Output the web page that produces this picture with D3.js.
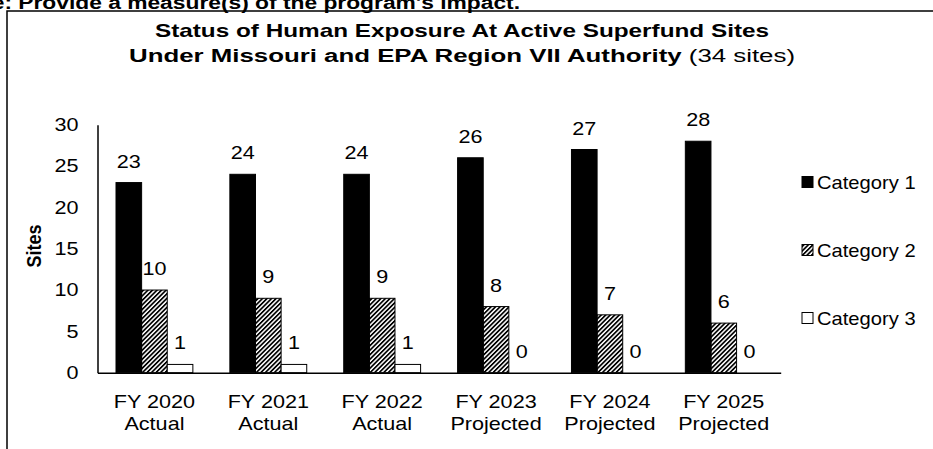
<!DOCTYPE html>
<html>
<head>
<meta charset="utf-8">
<script src="https://cdn.jsdelivr.net/npm/d3@7"></script>
<style>
  body { margin: 0; background: #fff; }
  svg { display: block; font-family: Arial, "Liberation Sans", sans-serif; }
</style>
</head>
<body>
<script>
// chart values
var years = ["FY 2020", "FY 2021", "FY 2022", "FY 2023", "FY 2024", "FY 2025"];
var phases = ["Actual", "Actual", "Actual", "Projected", "Projected", "Projected"];
var series = ["Category 1", "Category 2", "Category 3"];
var cat1 = [23, 24, 24, 26, 27, 28];
var cat2 = [10, 9, 9, 8, 7, 6];
var cat3 = [1, 1, 1, 0, 0, 0];
var yTicks = [0, 5, 10, 15, 20, 25, 30];

var w = 933, h = 449;
// the source picture is stretched sideways, so text gets a horizontal scale
var k = 1.2;

var svg = d3.select("body").append("svg")
  .attr("width", w)
  .attr("height", h);

// hatch for category 2
var defs = svg.append("defs");
defs.append("pattern")
  .attr("id", "hatch")
  .attr("patternUnits", "userSpaceOnUse")
  .attr("width", 3.2)
  .attr("height", 3.2)
  .attr("patternTransform", "rotate(45)")
  .append("rect")
  .attr("width", 1.7)
  .attr("height", 3.2)
  .style("fill", "#000");

var fills = ["#000", "url(#hatch)", "#fff"];

// cut-off heading above the chart box
svg.append("text")
  .attr("transform", "translate(520,9) scale(" + k + ",1)")
  .attr("text-anchor", "end")
  .style("font-weight", "bold")
  .style("font-size", "19px")
  .text("ure: Provide a measure(s) of the program's impact.");

// chart box (right and bottom edges fall off the page)
svg.append("rect")
  .attr("x", 7)
  .attr("y", 11)
  .attr("width", 1000)
  .attr("height", 500)
  .style("fill", "none")
  .style("stroke", "#000")
  .style("stroke-width", 1.5);

// title
svg.append("text")
  .attr("transform", "translate(462,37) scale(1.28,1)")
  .attr("text-anchor", "middle")
  .style("font-size", "19px")
  .style("font-weight", "bold")
  .text("Status of Human Exposure At Active Superfund Sites");
var t2 = svg.append("text")
  .attr("transform", "translate(462,62) scale(1.36,1)")
  .attr("text-anchor", "middle")
  .style("font-size", "19px");
t2.append("tspan").style("font-weight", "bold").text("Under Missouri and EPA Region VII Authority");
t2.append("tspan").text(" (34 sites)");

// scales
var x0 = d3.scaleBand()
  .domain(years)
  .range([97.5, 780.7]);

var x1 = d3.scaleBand()
  .domain(series)
  .range([18.5, x0.bandwidth() - 18.5]);

var y = d3.scaleLinear()
  .domain([0, 30])
  .range([372.7, 124.7]);

// y axis
var yAxis = svg.append("g")
  .attr("transform", "translate(97.5,0)")
  .call(d3.axisLeft(y).tickValues(yTicks).tickSize(0));
yAxis.select(".domain").style("stroke", "#000").style("stroke-width", 1.5);
yAxis.selectAll("text")
  .attr("x", -19 / k)
  .attr("transform", "scale(" + k + ",1)")
  .style("font-size", "18px")
  .style("font-family", "Arial, 'Liberation Sans', sans-serif")
  .style("fill", "#000");

svg.append("text")
  .attr("transform", "translate(41,246) rotate(-90) scale(1,1.15)")
  .attr("text-anchor", "middle")
  .style("font-weight", "bold")
  .style("font-size", "18px")
  .text("Sites");

// bars
var rows = years.map(function(yr, i){
  return { year: yr, vals: [cat1[i], cat2[i], cat3[i]] };
});

var groups = svg.selectAll(".grp")
  .data(rows)
  .enter().append("g")
  .attr("class", "grp")
  .attr("transform", function(d){ return "translate(" + x0(d.year) + ",0)"; });

groups.selectAll("rect")
  .data(function(d){ return d.vals.map(function(v, j){ return { s: series[j], v: v, j: j }; }); })
  .enter().append("rect")
  .attr("x", function(d){ return x1(d.s); })
  .attr("y", function(d){ return y(d.v); })
  .attr("width", x1.bandwidth())
  .attr("height", function(d){ return y(0) - y(d.v); })
  .style("fill", function(d){ return fills[d.j]; })
  .style("stroke", "#000")
  .style("stroke-width", 1);

groups.selectAll(".lbl")
  .data(function(d){ return d.vals.map(function(v, j){ return { s: series[j], v: v }; }); })
  .enter().append("text")
  .attr("class", "lbl")
  .attr("transform", function(d){
    return "translate(" + (x1(d.s) + x1.bandwidth() / 2) + "," + (y(d.v) - 15) + ") scale(" + k + ",1)";
  })
  .attr("text-anchor", "middle")
  .style("font-size", "18px")
  .text(function(d){ return d.v; });

// x axis
var xAxis = svg.append("g")
  .attr("transform", "translate(0," + y(0) + ")")
  .call(d3.axisBottom(x0).tickSize(0).tickFormat(""));
xAxis.select(".domain").style("stroke", "#000").style("stroke-width", 1.5);

var xl = svg.selectAll(".xl")
  .data(years)
  .enter().append("text")
  .attr("class", "xl")
  .attr("transform", function(d){ return "translate(" + (x0(d) + x0.bandwidth() / 2) + ",0) scale(" + k + ",1)"; })
  .attr("text-anchor", "middle")
  .style("font-size", "18px");
xl.append("tspan")
  .attr("x", 0)
  .attr("y", 408)
  .text(function(d){ return d; });
xl.append("tspan")
  .attr("x", 0)
  .attr("y", 430)
  .text(function(d, i){ return phases[i]; });

// legend
var legend = svg.selectAll(".leg")
  .data(series)
  .enter().append("g")
  .attr("class", "leg")
  .attr("transform", function(d, i){ return "translate(802," + (182 + i * 68) + ")"; });
legend.append("rect")
  .attr("x", 0).attr("y", -5.5)
  .attr("width", 11).attr("height", 11)
  .style("fill", function(d, i){ return fills[i]; })
  .style("stroke", "#000")
  .style("stroke-width", 1);
legend.append("text")
  .attr("transform", "translate(15,6.5) scale(1.12,1)")
  .style("font-size", "18px")
  .text(function(d){ return d; });
</script>
</body>
</html>
